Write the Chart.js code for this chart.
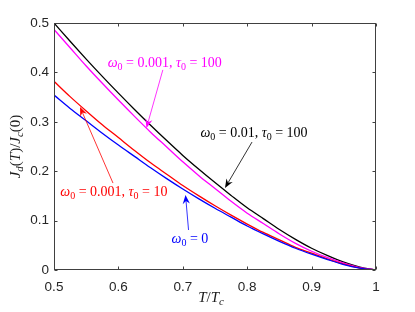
<!DOCTYPE html>
<html>
<head>
<meta charset="utf-8">
<script src="https://cdn.jsdelivr.net/npm/chart.js@4/dist/chart.umd.min.js"></script>
<style>
  html, body { margin: 0; padding: 0; background: #fff; }
  #wrap { width: 415px; height: 312px; }
</style>
</head>
<body>
<div id="wrap"><canvas id="jdChart" width="415" height="312"></canvas></div>
<script>
// temperature grid T/Tc
const tRatio = [0.5, 0.525, 0.55, 0.575, 0.6, 0.625, 0.65, 0.675, 0.7, 0.725, 0.75,
                0.775, 0.8, 0.825, 0.85, 0.875, 0.9, 0.925, 0.95, 0.975, 1.0];

// Jd(T)/Jc(0), one array per curve
const jdBlack   = [0.500, 0.463, 0.427, 0.392, 0.358, 0.325, 0.293, 0.262, 0.232, 0.204, 0.177,
                   0.151, 0.126, 0.104, 0.082, 0.062, 0.044, 0.029, 0.016, 0.006, 0];
const jdMagenta = [0.487, 0.450, 0.413, 0.378, 0.344, 0.311, 0.279, 0.249, 0.219, 0.191, 0.165,
                   0.139, 0.115, 0.094, 0.073, 0.054, 0.038, 0.025, 0.014, 0.005, 0];
const jdRed     = [0.382, 0.351, 0.322, 0.294, 0.268, 0.242, 0.217, 0.194, 0.171, 0.150, 0.130,
                   0.111, 0.093, 0.076, 0.061, 0.046, 0.034, 0.022, 0.012, 0.004, 0];
const jdBlue    = [0.354, 0.327, 0.302, 0.277, 0.253, 0.230, 0.207, 0.185, 0.164, 0.144, 0.125,
                   0.107, 0.089, 0.073, 0.058, 0.044, 0.032, 0.021, 0.011, 0.004, 0];

const xTicks = [0.5, 0.6, 0.7, 0.8, 0.9, 1];
const yTicks = [0, 0.1, 0.2, 0.3, 0.4, 0.5];

// text annotations: label centre and arrow (from -> tip), in data units
const notes = [
  { color: '#ff00ff', text: [['ω', 'i'], ['0', 's'], [' = 0.001, '], ['τ', 'i'], ['0', 's'], [' = 100']],
    at: [0.672, 0.419], from: [0.669, 0.405], tip: [0.6436, 0.2875] },
  { color: '#000000', text: [['ω', 'i'], ['0', 's'], [' = 0.01, '], ['τ', 'i'], ['0', 's'], [' = 100']],
    at: [0.8106, 0.277], from: [0.8075, 0.259], tip: [0.7655, 0.166] },
  { color: '#ff0000', text: [['ω', 'i'], ['0', 's'], [' = 0.001, '], ['τ', 'i'], ['0', 's'], [' = 10']],
    at: [0.593, 0.158], from: [0.5916, 0.176], tip: [0.5404, 0.330] },
  { color: '#0000ff', text: [['ω', 'i'], ['0', 's'], [' = 0']],
    at: [0.711, 0.063], from: [0.7089, 0.081], tip: [0.7042, 0.152] }
];

const SERIF = '"Liberation Serif", "DejaVu Serif", serif';
const SANS = '"Liberation Sans", Arial, sans-serif';

function toPoints(ys) {
  return tRatio.map((t, i) => ({ x: t, y: ys[i] }));
}

// math-like text runs: 'i' italic, 's' subscript, 'si' italic subscript
function fontFor(kind, size) {
  if (kind === 's') return `${Math.round(size * 0.7)}px ${SERIF}`;
  if (kind === 'si') return `italic ${Math.round(size * 0.7)}px ${SERIF}`;
  if (kind === 'i') return `italic ${size}px ${SERIF}`;
  return `${size}px ${SERIF}`;
}
function richWidth(ctx, parts, size) {
  let w = 0;
  parts.forEach(p => {
    ctx.font = fontFor(p[1], size);
    w += ctx.measureText(p[0]).width;
  });
  return w;
}
function drawRich(ctx, parts, cx, cy, size, color) {
  const total = richWidth(ctx, parts, size);
  let x = cx - total / 2;
  ctx.fillStyle = color;
  ctx.textBaseline = 'middle';
  ctx.textAlign = 'left';
  parts.forEach(p => {
    ctx.font = fontFor(p[1], size);
    const dy = (p[1] === 's' || p[1] === 'si') ? size * 0.3 : 0;
    ctx.fillText(p[0], x, cy + dy);
    x += ctx.measureText(p[0]).width;
  });
}

function drawArrow(ctx, x0, y0, x1, y1, color) {
  const ang = Math.atan2(y1 - y0, x1 - x0);
  const len = 9, half = 3.6, notch = 3;
  ctx.strokeStyle = color;
  ctx.fillStyle = color;
  ctx.lineWidth = 0.8;
  ctx.beginPath();
  ctx.moveTo(x0, y0);
  ctx.lineTo(x1 - Math.cos(ang) * (len - notch), y1 - Math.sin(ang) * (len - notch));
  ctx.stroke();
  ctx.save();
  ctx.translate(x1, y1);
  ctx.rotate(ang);
  ctx.beginPath();
  ctx.moveTo(0, 0);
  ctx.lineTo(-len, -half);
  ctx.lineTo(-len + notch, 0);
  ctx.lineTo(-len, half);
  ctx.closePath();
  ctx.fill();
  ctx.restore();
}

const frameAndNotes = {
  id: 'frameAndNotes',
  afterDatasetsDraw(chart) {
    const ctx = chart.ctx;
    const a = chart.chartArea;
    const xs = chart.scales.x, ys = chart.scales.y;
    ctx.save();

    // box + inward ticks
    ctx.strokeStyle = '#404040';
    ctx.lineWidth = 1;
    const L = Math.round(a.left) + 0.5, R = Math.round(a.right) - 0.5;
    const T = Math.round(a.top) + 0.5, B = Math.round(a.bottom) - 0.5;
    ctx.strokeRect(L, T, R - L, B - T);
    ctx.beginPath();
    xTicks.forEach(v => {
      const px = Math.round(xs.getPixelForValue(v)) + 0.5;
      ctx.moveTo(px, B); ctx.lineTo(px, B - 3);
      ctx.moveTo(px, T); ctx.lineTo(px, T + 3);
    });
    yTicks.forEach(v => {
      const py = Math.round(ys.getPixelForValue(v)) + 0.5;
      ctx.moveTo(L, py); ctx.lineTo(L + 3, py);
      ctx.moveTo(R, py); ctx.lineTo(R - 3, py);
    });
    ctx.stroke();

    // annotations
    notes.forEach(n => {
      drawArrow(ctx,
        xs.getPixelForValue(n.from[0]), ys.getPixelForValue(n.from[1]),
        xs.getPixelForValue(n.tip[0]), ys.getPixelForValue(n.tip[1]), n.color);
      drawRich(ctx, n.text, xs.getPixelForValue(n.at[0]), ys.getPixelForValue(n.at[1]), 14, n.color);
    });

    // axis titles
    drawRich(ctx, [['T', 'i'], ['/'], ['T', 'i'], ['c', 'si']], (a.left + a.right) / 2 - 4, 298, 15, '#1a1a1a');
    ctx.save();
    ctx.translate(16, (a.top + a.bottom) / 2);
    ctx.rotate(-Math.PI / 2);
    drawRich(ctx, [['J', 'i'], ['d', 'si'], ['('], ['T', 'i'], [')/'], ['J', 'i'], ['c', 'si'], ['(0)']],
      0, 0, 15, '#1a1a1a');
    ctx.restore();

    ctx.restore();
  }
};

const lineStyle = { pointRadius: 0, borderWidth: 1.3, cubicInterpolationMode: 'monotone', fill: false };

new Chart(document.getElementById('jdChart'), {
  type: 'line',
  data: {
    datasets: [
      { label: 'ω0 = 0', data: toPoints(jdBlue), borderColor: '#0000ff', ...lineStyle },
      { label: 'ω0 = 0.001, τ0 = 10', data: toPoints(jdRed), borderColor: '#ff0000', ...lineStyle },
      { label: 'ω0 = 0.001, τ0 = 100', data: toPoints(jdMagenta), borderColor: '#ff00ff', ...lineStyle },
      { label: 'ω0 = 0.01, τ0 = 100', data: toPoints(jdBlack), borderColor: '#000000', ...lineStyle }
    ]
  },
  options: {
    responsive: false,
    animation: false,
    layout: { padding: { left: 0, top: 23, right: 39, bottom: 0 } },
    plugins: { legend: { display: false }, tooltip: { enabled: false } },
    scales: {
      x: {
        type: 'linear', min: 0.5, max: 1,
        afterFit: s => { s.height = 42; },
        afterBuildTicks: s => { s.ticks = xTicks.map(v => ({ value: v })); },
        grid: { display: false, drawTicks: false },
        border: { display: false },
        ticks: { padding: 9, color: '#262626', font: { family: SANS, size: 13.5 },
                 maxRotation: 0, callback: v => String(v) }
      },
      y: {
        min: 0, max: 0.5,
        afterFit: s => { s.width = 54; },
        afterBuildTicks: s => { s.ticks = yTicks.map(v => ({ value: v })); },
        grid: { display: false, drawTicks: false },
        border: { display: false },
        ticks: { padding: 5, color: '#262626', font: { family: SANS, size: 13.5 },
                 callback: v => String(v) }
      }
    }
  },
  plugins: [frameAndNotes]
});
</script>
</body>
</html>
